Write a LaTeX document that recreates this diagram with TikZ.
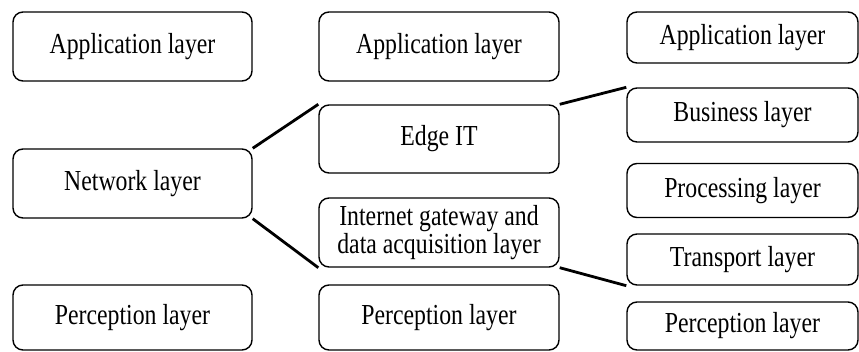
\documentclass[tikz,border=0pt]{standalone}
\usepackage{fontspec}
\setmainfont[FakeStretch=0.82]{Liberation Serif}
\begin{document}
\begin{tikzpicture}[x=1pt,y=-1pt,
  box/.style={draw, line width=1.4pt, rounded corners=10pt, inner sep=0pt, align=center,
    font=\fontsize{29}{28}\selectfont},
  link/.style={line width=2.8pt}]
\useasboundingbox (0,0) rectangle (859,352);
% column 1
\node[box, minimum width=239pt, minimum height=69pt] (a1) at (132.5,46.5) {Application layer};
\node[box, minimum width=239pt, minimum height=69pt] (n1) at (132.5,183.5) {Network layer};
\node[box, minimum width=239pt, minimum height=65pt] (p1) at (132.5,317.5) {Perception layer};
% column 2
\node[box, minimum width=240pt, minimum height=69pt] (a2) at (439,46.5) {Application layer};
\node[box, minimum width=240pt, minimum height=68pt] (e2) at (439,139) {Edge IT};
\node[box, minimum width=240pt, minimum height=69pt] (i2) at (439,232.5) {Internet gateway and\\data acquisition layer};
\node[box, minimum width=240pt, minimum height=65pt] (p2) at (439,317.5) {Perception layer};
% column 3
\node[box, minimum width=231pt, minimum height=51pt] (a3) at (742.5,37.5) {Application layer};
\node[box, minimum width=231pt, minimum height=54pt] (b3) at (742.5,115) {Business layer};
\node[box, minimum width=231pt, minimum height=54pt] (r3) at (742.5,190.5) {Processing layer};
\node[box, minimum width=231pt, minimum height=51pt] (t3) at (742.5,259.5) {Transport layer};
\node[box, minimum width=231pt, minimum height=48pt] (c3) at (742.5,326) {Perception layer};
% connectors
\draw[link] (n1.north east) -- (e2.north west);
\draw[link] (n1.south east) -- (i2.south west);
\draw[link] (e2.north east) -- (b3.north west);
\draw[link] (i2.south east) -- (t3.south west);
\end{tikzpicture}
\end{document}
